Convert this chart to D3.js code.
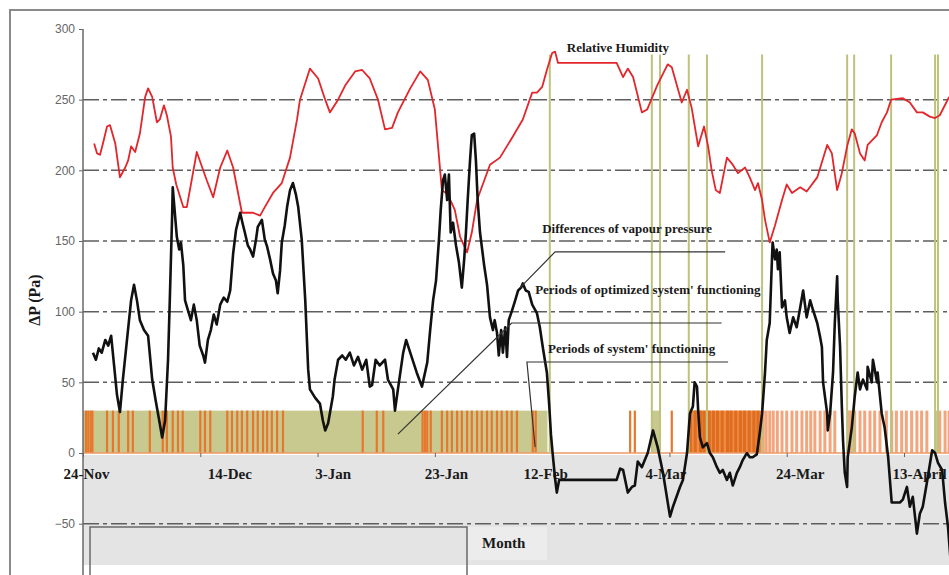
<!DOCTYPE html>
<html>
<head>
<meta charset="utf-8">
<script src="https://cdn.jsdelivr.net/npm/d3@7"></script>
<style>
  body { margin: 0; background: #fff; }
  svg { display: block; }
</style>
</head>
<body>
<svg id="chart" width="949" height="575"></svg>
<script>
// ---- Axis ticks (days counted from 24 Nov) ----
const tickDays   = [0, 20, 40, 60, 80, 100, 120, 140];
const tickLabels = ["24-Nov", "14-Dec", "3-Jan", "23-Jan", "12-Feb", "4-Mar", "24-Mar", "13-April"];
const yTicks     = [-50, 0, 50, 100, 150, 200, 250, 300];
const gridValues = [-50, 50, 100, 150, 200, 250];

// ---- Relative humidity curve [day, value] ----
const humidity = [
  [1.9,219],[2.4,212],[2.9,211],[3.4,219],[4.1,231],[4.6,232],[5.5,219],[6.3,195],[7.2,202],[7.7,207],
  [8.2,217],[8.9,213],[9.7,226],[10.6,252],[11.1,258],[11.8,252],[12.6,234],[13.1,236],[13.8,246],[14.3,239],
  [15.0,224],[15.3,202],[15.9,190],[17.1,174],[17.7,174],[19.4,213],[21.1,193],[22.2,181],[23.4,202],[24.6,214],
  [25.6,202],[27.1,170],[29.0,170],[30.2,168],[31.0,174],[32.4,184],[33.9,191],[35.3,209],[36.5,236],[37.0,250],
  [38.7,272],[40.1,265],[41.3,250],[42.1,241],[43.5,250],[44.7,260],[46.4,270],[47.6,271],[48.9,265],[50.3,250],
  [51.5,229],[52.7,230],[53.7,241],[55.8,258],[57.5,270],[58.8,264],[60.0,243],[61.2,186],[62.2,183],[63.4,172],
  [64.3,153],[65.5,142],[66.3,156],[67.2,179],[69.4,204],[71.1,209],[73.3,224],[75.0,236],[76.6,255],[77.4,255],
  [78.3,259],[79.1,271],[80.0,283],[80.5,284],[81.0,276],[91.0,276],[92.1,266],[92.9,272],[93.8,266],[95.3,241],
  [96.2,243],[97.9,260],[99.7,275],[100.4,273],[102.1,248],[103.0,257],[103.8,244],[104.9,217],[105.9,231],[106.6,217],
  [107.2,200],[107.9,186],[108.6,184],[109.8,209],[110.8,204],[111.7,198],[112.9,202],[113.7,195],[114.6,186],[115.1,191],
  [115.8,179],[116.3,165],[117.1,149],[118.0,161],[119.2,179],[120.0,190],[120.9,184],[122.3,188],[123.4,185],[125.2,195],
  [126.9,218],[127.7,212],[128.6,186],[129.4,198],[130.3,217],[131.1,229],[131.6,226],[132.5,212],[133.3,207],[133.8,218],
  [135.4,225],[136.2,234],[137.1,241],[137.8,250],[139.8,251],[141.0,248],[142.2,241],[143.2,241],[144.4,238],[145.3,237],
  [146.1,239],[147.7,252]
];

// ---- Difference of vapour pressure ΔP [day, Pa] ----
const vapourDiff = [
  [1.7,71],[2.2,66],[2.7,74],[3.2,71],[3.8,80],[4.3,76],[4.8,83],[5.3,62],[5.8,41],[6.3,29],
  [6.8,52],[7.5,80],[8.2,108],[8.7,119],[9.2,108],[9.7,94],[10.4,87],[11.1,83],[11.8,52],[12.4,37],
  [13.0,23],[13.5,11],[14.0,23],[14.5,66],[14.8,108],[15.2,168],[15.3,188],[15.7,168],[16.0,153],[16.4,144],
  [16.7,149],[17.1,133],[17.4,108],[17.9,101],[18.4,94],[18.9,105],[19.4,94],[19.9,76],[20.5,69],[20.8,64],
  [21.3,80],[21.8,87],[22.3,98],[22.8,91],[23.4,105],[24.0,110],[24.6,107],[25.1,115],[25.6,141],[26.1,158],
  [26.8,170],[27.3,161],[27.6,156],[28.1,147],[28.5,144],[29.0,139],[29.5,151],[29.8,160],[30.5,165],[31.0,151],
  [31.4,146],[31.9,137],[32.4,127],[32.9,122],[33.2,113],[33.6,129],[33.9,149],[34.4,161],[34.8,174],[35.3,186],
  [35.8,191],[36.3,183],[36.7,174],[37.3,151],[37.9,108],[38.4,59],[38.7,45],[39.6,39],[40.4,35],[40.9,23],
  [41.3,16],[41.8,21],[42.6,40],[42.9,52],[43.5,66],[44.2,69],[44.8,66],[45.5,71],[46.2,62],[46.9,68],
  [47.6,59],[48.3,66],[48.9,47],[49.3,48],[49.9,66],[50.6,62],[51.5,66],[52.0,52],[52.9,45],[53.2,30],
  [53.7,45],[54.6,71],[55.1,80],[55.8,71],[56.9,57],[57.8,47],[58.7,64],[59.2,87],[59.7,108],[60.2,122],
  [60.7,151],[61.0,172],[61.4,193],[61.7,197],[62.1,179],[62.4,197],[62.7,156],[63.1,163],[63.6,147],[64.1,135],
  [64.6,117],[65.0,137],[65.3,156],[65.6,179],[66.0,207],[66.3,225],[66.7,226],[67.0,207],[67.3,179],[67.7,156],
  [68.4,133],[68.9,119],[69.4,96],[69.9,87],[70.2,94],[70.6,85],[70.9,69],[71.3,87],[71.6,71],[72.0,89],
  [72.3,68],[72.6,94],[73.1,100],[73.7,108],[74.2,115],[74.7,117],[75.0,120],[75.5,115],[76.0,114],[76.6,105],
  [77.4,99],[77.9,89],[78.4,75],[79.1,57],[79.5,34],[79.8,13],[80.1,-1],[80.5,-18],[80.8,-28],[81.2,-19],
  [91.0,-19],[91.6,-11],[92.1,-12],[92.9,-28],[93.6,-24],[94.1,-23],[94.6,-6],[95.3,-10],[95.8,-5],[96.3,0],
  [97.2,16],[98.0,4],[98.9,-14],[100.1,-45],[100.6,-38],[101.8,-24],[102.3,-19],[103.0,0],[103.5,28],[104.0,33],
  [104.3,50],[104.7,47],[104.9,30],[105.2,11],[105.7,4],[106.4,7],[106.9,0],[107.4,-3],[108.1,-10],[108.6,-14],
  [109.1,-12],[109.8,-19],[110.3,-14],[110.8,-23],[111.5,-14],[112.0,-10],[112.5,-5],[113.2,0],[113.7,-3],[114.2,-3],
  [114.9,-1],[115.4,14],[115.8,28],[116.3,57],[116.6,80],[117.1,92],[117.5,139],[117.6,149],[118.0,137],[118.3,144],
  [118.5,130],[118.8,142],[119.2,103],[119.7,108],[120.0,96],[120.5,85],[121.1,96],[121.7,89],[122.3,103],[122.8,115],
  [123.4,96],[124.0,108],[124.5,101],[125.2,92],[125.7,82],[126.0,75],[126.2,50],[126.9,28],[127.0,16],[127.4,28],
  [127.9,57],[128.2,92],[128.6,125],[128.7,108],[129.1,75],[129.4,33],[129.6,9],[129.9,-14],[130.3,-24],[130.4,-3],
  [131.1,18],[131.6,40],[132.1,57],[132.5,45],[133.0,52],[133.7,45],[133.8,61],[134.5,50],[134.7,66],[135.4,50],
  [135.5,57],[136.2,28],[136.7,18],[137.3,-3],[137.9,-35],[139.3,-35],[139.8,-33],[140.5,-24],[141.0,-38],[141.5,-31],
  [142.2,-57],[142.7,-43],[143.2,-38],[143.9,-21],[144.8,2],[145.3,0],[145.8,-7],[146.5,-12],[147.0,-35],[147.5,-52],
  [148.0,-79]
];

// ---- System operation ----
const functioningLevel   = 30;
const functioningPeriods = [[0, 79.2], [97.0, 98.4], [103.3, 105.0], [130.3, 131.5], [145.3, 145.8]];
const switchEvents = [
  0.5, 0.9, 1.3, 1.6, 4.1, 5.1, 6.1, 7.7, 8.5, 11.4, 13.6, 14.3, 15.3, 16.2, 17.0, 20.0, 20.8, 21.7,
  24.6, 25.4, 26.3, 27.1, 28.0, 29.0, 29.8, 30.7, 31.4, 32.2, 33.1, 34.1, 47.7, 50.1, 51.2,
  57.9, 58.3, 58.7, 59.3, 61.2, 62.1, 62.9, 63.8, 64.6, 65.5, 66.3, 67.2, 68.0, 68.9, 69.7, 70.6,
  71.4, 72.3, 73.1, 74.0, 76.7, 77.2, 93.3, 94.1, 100.4
];
const intensivePeriods = [[103.2, 115.8]];
const intensiveEvents  = [
  103.6, 104.4, 105.3, 105.9, 106.8, 107.5, 108.2, 109.0, 109.9, 110.5, 111.3, 112.1, 112.8, 113.6, 114.4, 115.1
];
const lightEvents = [
  116.0, 116.5, 117.1, 117.7, 118.4, 119.2, 120.0, 120.9, 121.7, 122.6, 123.4, 124.1, 124.8, 125.7, 126.5,
  127.4, 128.2, 130.8, 131.6, 132.5, 133.3, 134.2, 135.0, 135.9, 137.0, 137.9, 138.7, 139.6, 140.4, 141.3,
  142.2, 143.0, 143.9, 146.1, 147.0, 147.7
];
const optimizedLevel = 282;
const optimizedMarks = [79.6, 97.0, 98.4, 103.3, 106.4, 115.8, 130.3, 131.5, 137.8, 145.3, 145.8];

// ---- Annotations: label text, anchor [day, value], leader polyline [day, value] ----
const notes = [
  { text: "Relative Humidity",                        at: [82.5, 284],  leader: [] },
  { text: "Differences of vapour pressure",           at: [78.3, 155.5], leader: [[109.5, 142.3], [80.5, 142.3], [74.5, 116.8]] },
  { text: "Periods of optimized system' functioning", at: [77.1, 112.2], leader: [[108.9, 92.0], [73.1, 92.0], [53.7, 13.4]] },
  { text: "Periods of system' functioning",           at: [79.3, 71.0],  leader: [[110.0, 64.4], [75.7, 64.4], [77.1, 4.2]] }
];
// horizontal offsets (px) of the date labels from their ticks
const labelNudge = [3, 29, 15, 11, -7, -4, 13, 15];

// ---------------------------------------------------------------
const svg = d3.select("#chart");
const W = 949, H = 575;
const left = 83;

const x = d3.scaleLinear().domain([0, 140]).range([left, 904]);
const y = d3.scaleLinear().domain([-50, 300]).range([523.7, 29]);
const serif = "'Liberation Serif', 'Times New Roman', serif";
const sans  = "'Liberation Sans', Arial, sans-serif";

// outer frame
svg.append("path").attr("d", `M10,${H} V10 H${W}`)
  .attr("fill", "none").attr("stroke", "#8a8a8a").attr("stroke-width", 2);

// grey band below the zero line
svg.append("rect").attr("x", left).attr("y", y(0) + 2).attr("width", W - left).attr("height", 565 - y(0) - 2)
  .attr("fill", "#e4e4e4");
svg.append("rect").attr("x", 467).attr("y", 527).attr("width", 80).attr("height", 33).attr("fill", "#ececec");

// gridlines
svg.append("g").selectAll("line").data(gridValues).join("line")
  .attr("x1", left).attr("x2", W).attr("y1", d => y(d)).attr("y2", d => y(d))
  .attr("stroke", "#5e5e5e").attr("stroke-width", 1.5).attr("stroke-dasharray", "16,4,4,4");

// legend box under the axis
svg.append("path").attr("d", `M90,${H} V527 H467 V${H}`)
  .attr("fill", "none").attr("stroke", "#6a6a6a").attr("stroke-width", 1.5);
svg.append("text").attr("x", 482).attr("y", 548).text("Month")
  .attr("font-family", serif).attr("font-weight", "bold").attr("font-size", 15).attr("fill", "#1a1a1a");

// periods of system functioning
const base = y(0), top30 = y(functioningLevel);
svg.append("g").selectAll("rect").data(functioningPeriods).join("rect")
  .attr("x", d => x(d[0])).attr("width", d => x(d[1]) - x(d[0]))
  .attr("y", top30).attr("height", base - top30).attr("fill", "#c7c98f");

svg.append("g").selectAll("rect").data(intensivePeriods).join("rect")
  .attr("x", d => x(d[0])).attr("width", d => x(d[1]) - x(d[0]))
  .attr("y", top30).attr("height", base - top30).attr("fill", "#eb8c48");

svg.append("g").selectAll("rect").data(lightEvents).join("rect")
  .attr("x", d => x(d) - 1.5).attr("width", 3)
  .attr("y", top30).attr("height", base - top30).attr("fill", "#f3a67e");

svg.append("g").selectAll("rect").data(switchEvents).join("rect")
  .attr("x", d => x(d) - 1.1).attr("width", 2.2)
  .attr("y", top30).attr("height", base - top30).attr("fill", "#e8772e");

svg.append("g").selectAll("rect").data(intensiveEvents).join("rect")
  .attr("x", d => x(d) - 1.5).attr("width", 3)
  .attr("y", top30).attr("height", base - top30).attr("fill", "#e06c1e");

// zero baseline
svg.append("line").attr("x1", left).attr("x2", W).attr("y1", base).attr("y2", base)
  .attr("stroke", "#ee9a66").attr("stroke-width", 1.5);

// periods of optimized functioning
svg.append("g").selectAll("line").data(optimizedMarks).join("line")
  .attr("x1", d => x(d)).attr("x2", d => x(d))
  .attr("y1", y(optimizedLevel)).attr("y2", base)
  .attr("stroke", "#bfc27c").attr("stroke-width", 2);

// axes
const yAxis = svg.append("g").attr("transform", `translate(${left},0)`)
  .call(d3.axisLeft(y).tickValues(yTicks).tickSize(4).tickPadding(4));
yAxis.select(".domain").remove();
yAxis.selectAll("line").attr("stroke", "#666");
yAxis.selectAll("text").attr("font-family", sans).attr("font-size", 12).attr("fill", "#666");
svg.append("line").attr("x1", left).attr("x2", left).attr("y1", y(300)).attr("y2", H)
  .attr("stroke", "#6a6a6a").attr("stroke-width", 1.5);

const xAxis = svg.append("g").attr("transform", `translate(0,${base})`)
  .call(d3.axisBottom(x).tickValues(tickDays).tickFormat((d, i) => tickLabels[i]).tickSize(4));
xAxis.select(".domain").remove();
xAxis.selectAll("line").attr("stroke", "#666");
xAxis.selectAll("text")
  .attr("y", 26).attr("dy", 0).attr("dx", (d, i) => labelNudge[i])
  .attr("font-family", serif).attr("font-weight", "bold").attr("font-size", 15).attr("fill", "#1a1a1a");

// y title
svg.append("text").attr("transform", "translate(40,300) rotate(-90)")
  .attr("text-anchor", "middle").text("ΔP (Pa)")
  .attr("font-family", serif).attr("font-weight", "bold").attr("font-size", 16).attr("fill", "#1a1a1a");

// curves
const line = d3.line().x(d => x(d[0])).y(d => y(d[1]));
svg.append("path").datum(humidity).attr("d", line)
  .attr("fill", "none").attr("stroke", "#e2262b").attr("stroke-width", 1.8).attr("stroke-linejoin", "round");
svg.append("path").datum(vapourDiff).attr("d", line)
  .attr("fill", "none").attr("stroke", "#111").attr("stroke-width", 2.6).attr("stroke-linejoin", "round");

// annotations
const ann = svg.append("g");
notes.forEach(n => {
  if (n.leader.length) {
    ann.append("path").datum(n.leader).attr("d", line)
      .attr("fill", "none").attr("stroke", "#333").attr("stroke-width", 1.2);
  }
  ann.append("text").attr("x", x(n.at[0])).attr("y", y(n.at[1])).text(n.text)
    .attr("font-family", serif).attr("font-weight", "bold").attr("font-size", 13).attr("fill", "#1a1a1a");
});
</script>
</body>
</html>
